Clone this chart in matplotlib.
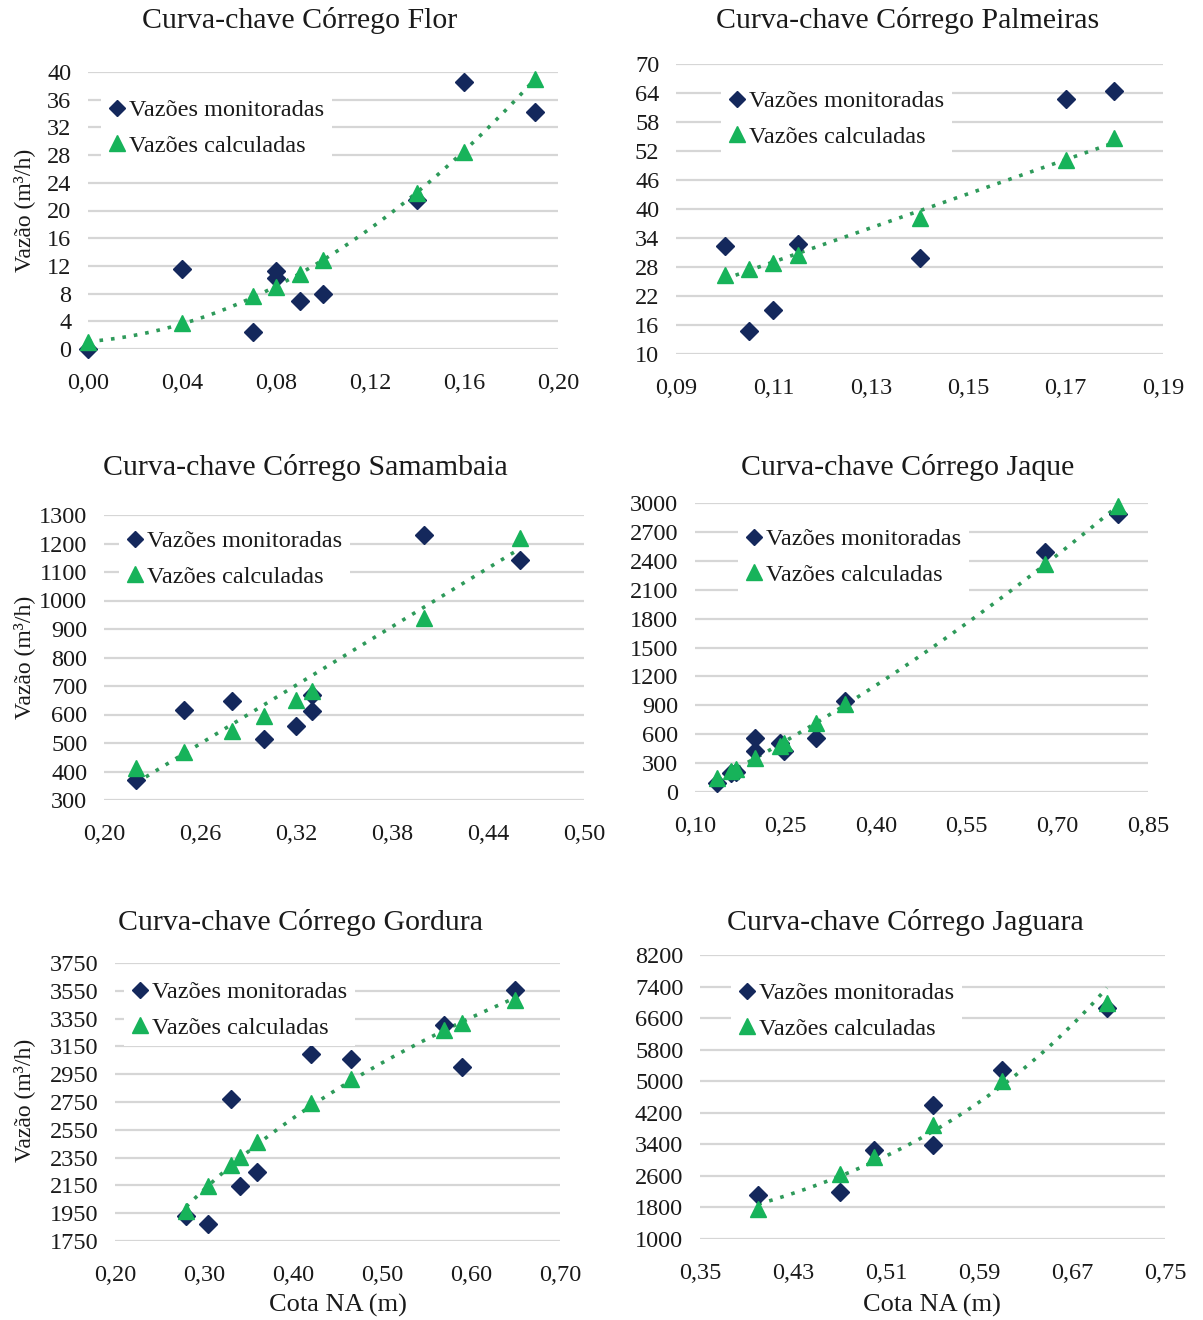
import numpy as np
import matplotlib
matplotlib.use("Agg")
import matplotlib.pyplot as plt
from matplotlib.lines import Line2D

plt.rcParams["font.family"] = ["Liberation Serif", "DejaVu Serif"]

# Córrego Flor
flor_x_mon = [0.00, 0.04, 0.07, 0.08, 0.08, 0.09, 0.10, 0.14, 0.16, 0.19]
flor_q_mon = [0.0, 11.5, 2.5, 11.3, 10.2, 6.9, 7.9, 21.5, 38.6, 34.2]
flor_x_calc = [0.00, 0.04, 0.07, 0.08, 0.09, 0.10, 0.14, 0.16, 0.19]
flor_q_calc = [1.0, 3.7, 7.6, 8.9, 10.9, 12.9, 22.5, 28.5, 39.0]

# Córrego Palmeiras
palm_x_mon = [0.100, 0.105, 0.110, 0.115, 0.140, 0.170, 0.180]
palm_q_mon = [32.4, 14.8, 19.1, 32.7, 29.9, 62.7, 64.5]
palm_x_calc = [0.100, 0.105, 0.110, 0.115, 0.140, 0.170, 0.180]
palm_q_calc = [26.4, 27.6, 28.9, 30.4, 38.2, 50.1, 54.6]

# Córrego Samambaia
sam_x_mon = [0.22, 0.25, 0.28, 0.30, 0.32, 0.33, 0.33, 0.40, 0.46]
sam_q_mon = [370, 617, 646, 513, 558, 613, 669, 1230, 1141]
sam_x_calc = [0.22, 0.25, 0.28, 0.30, 0.32, 0.33, 0.40, 0.46]
sam_q_calc = [411, 470, 543, 593, 652, 683, 937, 1218]

# Córrego Jaque
jaq_x_mon = [0.137, 0.160, 0.168, 0.200, 0.200, 0.240, 0.248, 0.300, 0.348, 0.680, 0.800]
jaq_q_mon = [97, 195, 210, 563, 425, 505, 425, 563, 943, 2488, 2889]
jaq_x_calc = [0.137, 0.160, 0.168, 0.200, 0.240, 0.248, 0.300, 0.348, 0.680, 0.800]
jaq_q_calc = [149, 218, 235, 356, 477, 512, 719, 909, 2371, 2965]

# Córrego Gordura
gord_x_mon = [0.280, 0.305, 0.330, 0.340, 0.360, 0.420, 0.465, 0.570, 0.590, 0.650]
gord_q_mon = [1927, 1875, 2769, 2143, 2245, 3092, 3056, 3303, 2999, 3554]
gord_x_calc = [0.280, 0.305, 0.330, 0.340, 0.360, 0.420, 0.465, 0.570, 0.590, 0.650]
gord_q_calc = [1963, 2143, 2298, 2353, 2461, 2740, 2913, 3267, 3319, 3482]

# Córrego Jaguara
jag_x_mon = [0.40, 0.47, 0.50, 0.55, 0.55, 0.61, 0.70]
jag_q_mon = [2121, 2180, 3261, 4392, 3388, 5279, 6866]
jag_x_calc = [0.40, 0.47, 0.50, 0.55, 0.61, 0.70]
jag_q_calc = [1758, 2645, 3067, 3886, 5009, 6976]

titles = ["Curva-chave Córrego Flor", "Curva-chave Córrego Palmeiras",
          "Curva-chave Córrego Samambaia", "Curva-chave Córrego Jaque",
          "Curva-chave Córrego Gordura", "Curva-chave Córrego Jaguara"]
x_ticks = [np.arange(0.00, 0.201, 0.04), np.arange(0.09, 0.191, 0.02),
           np.arange(0.20, 0.501, 0.06), np.arange(0.10, 0.851, 0.15),
           np.arange(0.20, 0.701, 0.10), np.arange(0.35, 0.751, 0.08)]
y_ticks = [np.arange(0, 41, 4), np.arange(10, 71, 6),
           np.arange(300, 1301, 100), np.arange(0, 3001, 300),
           np.arange(1750, 3751, 200), np.arange(1000, 8201, 800)]

W, H = 1203, 1320
NAVY = "#14285c"
GREEN = "#17b35a"
TREND = "#2e9a5a"
GRID = "#d6d6d6"
TXT = "#1a1a1a"

# plot-area boxes in pixels: left, right, top, bottom
boxes = [(88, 558, 72, 349), (676, 1163, 64, 354),
         (104, 584, 515, 800), (695, 1148, 503, 792),
         (115, 560, 963, 1241), (700, 1165, 955, 1239)]
title_pos = [(300, 20), (908, 20), (305, 468), (908, 468), (300, 922), (905, 922)]
legend_pos = [(89, 80), (709, 71), (107, 511), (726, 509), (112, 962), (719, 963)]

panels = [
    (flor_x_mon, flor_q_mon, flor_x_calc, flor_q_calc, ("calc", "poly2")),
    (palm_x_mon, palm_q_mon, palm_x_calc, palm_q_calc, ("calc", "poly1")),
    (sam_x_mon, sam_q_mon, sam_x_calc, sam_q_calc, ("mon", "poly1")),
    (jaq_x_mon, jaq_q_mon, jaq_x_calc, jaq_q_calc, ("calc", "poly2")),
    (gord_x_mon, gord_q_mon, gord_x_calc, gord_q_calc, ("calc", "log")),
    (jag_x_mon, jag_q_mon, jag_x_calc, jag_q_calc, ("calc", "exp")),
]


def trend_curve(x, y, kind):
    x = np.asarray(x, float)
    y = np.asarray(y, float)
    xs = np.linspace(x.min(), x.max(), 200)
    if kind == "poly1":
        ys = np.polyval(np.polyfit(x, y, 1), xs)
    elif kind == "poly2":
        ys = np.polyval(np.polyfit(x, y, 2), xs)
    elif kind == "log":
        ys = np.polyval(np.polyfit(np.log(x), y, 1), np.log(xs))
    else:  # exponential
        ys = np.exp(np.polyval(np.polyfit(x, np.log(y), 1), xs))
    return xs, ys


fig = plt.figure(figsize=(W / 100, H / 100), dpi=100)

for i, (xm, qm, xc, qc, (src, kind)) in enumerate(panels):
    l, r, t, b = boxes[i]
    ax = fig.add_axes([l / W, 1 - b / H, (r - l) / W, (b - t) / H])
    xt, yt = x_ticks[i], y_ticks[i]

    fx, fy = (xc, qc) if src == "calc" else (xm, qm)
    tx, ty = trend_curve(fx, fy, kind)
    ax.plot(tx, ty, linestyle=(0, (1, 2.2)), color=TREND, lw=2.6, zorder=2)
    ax.plot(xm, qm, linestyle="none", marker="D", ms=9.5, color=NAVY,
            zorder=3, clip_on=False)
    ax.plot(xc, qc, linestyle="none", marker="^", ms=12, color=GREEN,
            zorder=4, clip_on=False)

    ax.set_xlim(xt[0], xt[-1])
    ax.set_ylim(yt[0], yt[-1])
    ax.set_xticks(xt)
    ax.set_xticklabels([f"{v:.2f}".replace(".", ",") for v in xt])
    ax.set_yticks(yt)
    ax.set_yticklabels([f"{int(round(v))}" for v in yt])
    ax.tick_params(length=0, labelsize=17.5, colors=TXT, pad=17)
    ax.tick_params(axis="y", pad=12)
    ax.grid(axis="y", color=GRID, lw=1.6, zorder=0)
    for s in ax.spines.values():
        s.set_visible(False)
    ax.set_axisbelow(True)

    handles = [Line2D([], [], linestyle="none", marker="D", ms=8.5, color=NAVY),
               Line2D([], [], linestyle="none", marker="^", ms=11.5, color=GREEN)]
    lx, ly = legend_pos[i]
    leg = ax.legend(handles, ["Vazões monitoradas", "Vazões calculadas"],
                    loc="upper left", bbox_to_anchor=(lx / W, 1 - ly / H),
                    bbox_transform=fig.transFigure, fontsize=17.5,
                    frameon=True, facecolor="white", edgecolor="none",
                    framealpha=1, fancybox=False, handlelength=0.7,
                    handletextpad=0.15, labelspacing=0.55, borderpad=0.3)
    for txt in leg.get_texts():
        txt.set_color(TXT)

    tx0, ty0 = title_pos[i]
    fig.text(tx0 / W, 1 - ty0 / H, titles[i], ha="center", va="center",
             fontsize=21.5, color=TXT)

# axis labels on the outer panels only
for yc in (210, 657, 1100):
    fig.text(24 / W, 1 - yc / H, "Vazão (m³/h)", rotation=90, ha="center",
             va="center", fontsize=17, color=TXT)
for xc in (338, 932):
    fig.text(xc / W, 1 - 1305 / H, "Cota NA (m)", ha="center", va="center",
             fontsize=19, color=TXT)

fig.savefig("out.png", dpi=100, facecolor="white")
